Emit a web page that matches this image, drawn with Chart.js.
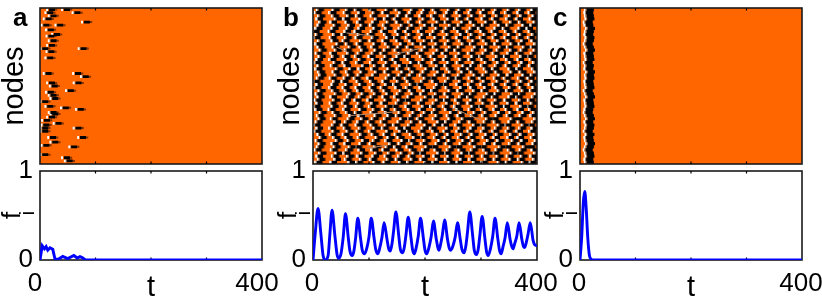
<!DOCTYPE html>
<html><head><meta charset="utf-8">
<style>html,body{margin:0;padding:0;background:#fff;overflow:hidden;width:822px;height:303px}
canvas{position:absolute;filter:blur(0.4px)}</style>
<script src="https://cdn.jsdelivr.net/npm/chart.js@4"></script>
</head><body>
<script>
const tickValues = [100, 200, 300];
const faT = [0,4,8,11,14,18,23,27,33,41,50,61,67,72,76,82,400];
const faV = [0,.16,.125,.15,.11,.137,.12,.01,.008,.04,.015,.05,.023,.038,.027,0,0];
const fbT = [0,4,9,14,18,22,27,30,34,39,43,46,50,54,58,63,66,70,73,76,80,85,88,92,96,100,104,109,112,116,119,123,127,132,135,138,141,144,148,153,156,160,163,166,170,175,178,181,184,188,192,197,200,203,207,211,215,220,223,225,228,231,235,240,243,246,250,254,258,263,266,270,273,276,280,285,288,292,295,298,302,307,310,313,317,321,325,330,333,336,339,343,347,352,355,357,360,364,368,373,376,378,381,384,388,393,396,400];
const fbV = [0,.3,.58,.3,.05,0,.05,.28,.56,.28,.06,.02,.07,.26,.52,.25,.1,.05,.1,.24,.47,.24,.11,.07,.13,.26,.47,.25,.12,.07,.13,.25,.42,.24,.13,.1,.18,.33,.54,.28,.12,.08,.14,.28,.48,.25,.11,.07,.13,.27,.47,.25,.11,.07,.14,.26,.44,.24,.14,.11,.18,.28,.45,.24,.14,.11,.16,.26,.42,.23,.12,.08,.16,.32,.54,.28,.11,.06,.12,.28,.49,.24,.09,.05,.13,.27,.47,.24,.11,.07,.14,.25,.42,.23,.15,.125,.18,.27,.42,.23,.15,.14,.2,.29,.42,.22,.17,.16];
const fcT = [0,3,6,8.5,11,14,17,20,24,400];
const fcV = [0,.25,.65,.77,.6,.25,.05,.01,0,0];
const eventT = [21,48,67,18,24,84,15,11,36,19,30,20,24,21,9,78,20,18,15,68,82,21,69,26,55,19,24,27,9,18,46,73,24,27,21,12,33,11,9,69,9,23,77,27,11,61,9,48,53];
const eventNode = [99,99,97,97,95,91,93,89,89,86,83,82,79,76,74,74,72,68,58,58,56,52,52,50,47,46,44,42,40,37,36,35,33,32,30,28,26,25,23,23,21,17,17,14,12,11,6,4,2];
const waveNodes = [1,3,5,7,9,11,13,15,17,19,21,23,25,27,29,31,33,35,37,39,41,43,45,47,49,51,53,55,57,59,61,63,65,67,69,71,73,75,77,79,81,83,85,87,89,91,93,95,97,99];
const stripeTimes = [
[11,16,13,18,10,14,17,12,19,15,9,13,8,12,17,14,19,11,8,13,10,15,12,17,9,13,7,14,18,16,11,15,9,13,17,12,19,15,11,16,8,12,6,11,15,18,13,16,10,14],
[38,45,41,47,39,44,40,48,43,37,42,36,41,45,39,46,42,35,40,37,43,38,46,41,36,40,43,37,46,42,48,39,44,36,41,38,46,42,49,40,37,43,35,40,44,38,46,41,36,42],
[70,64,68,61,66,71,63,69,65,60,67,62,58,64,69,72,66,61,65,59,63,68,71,64,60,65,58,62,69,66,72,63,60,65,61,68,64,71,66,60,64,58,63,67,70,65,61,68,62,66],
[84,91,86,93,88,82,90,95,87,91,85,89,83,86,93,88,82,90,84,87,81,89,94,86,83,90,85,80,87,92,88,95,84,89,82,87,93,90,85,91,83,87,81,88,92,86,90,84,88,82],
[115,109,113,118,111,116,108,114,119,112,107,115,110,105,112,117,110,114,107,111,104,110,116,112,108,114,109,104,113,118,111,116,109,113,106,112,117,111,115,108,112,105,110,115,109,113,118,110,114,108],
[133,139,135,141,131,137,143,136,140,133,138,130,135,128,134,140,136,131,137,129,135,131,138,133,128,136,131,137,142,135,140,133,137,130,135,128,134,141,136,131,138,134,129,136,132,139,134,140,131,137],
[161,155,159,164,156,152,160,165,158,153,161,156,150,158,163,155,160,153,148,155,159,152,157,162,154,150,157,152,160,165,157,161,154,149,156,160,153,158,163,156,151,158,154,160,164,156,152,158,161,155],
[175,182,178,185,180,174,183,178,186,180,174,170,177,182,175,180,185,177,172,178,170,176,183,179,173,180,175,171,179,184,178,173,181,176,170,177,182,175,185,179,173,178,172,176,183,177,181,174,179,182],
[206,199,204,197,202,208,200,205,198,203,196,201,206,199,193,200,205,197,202,195,200,207,199,204,197,192,200,205,198,203,208,200,196,203,198,193,201,206,199,205,197,201,195,200,206,198,203,197,201,204],
[220,227,222,229,224,218,226,231,223,228,220,216,224,229,221,226,219,223,216,221,227,220,225,218,223,227,220,216,224,229,222,227,219,224,217,222,228,221,226,219,224,216,221,226,220,228,222,218,225,221],
[249,243,247,241,246,251,244,249,242,247,240,245,238,243,249,246,252,243,239,245,240,247,242,249,244,238,243,248,241,250,246,242,247,240,244,238,245,250,243,248,241,246,239,244,250,242,247,241,245,248],
[263,270,265,272,267,261,269,274,266,271,263,267,261,268,273,265,270,263,259,266,261,268,273,265,270,263,268,261,266,272,267,274,264,269,262,267,260,266,273,268,263,270,265,259,266,272,264,269,263,267],
[293,286,291,284,289,295,287,292,285,290,283,288,293,286,282,289,294,285,290,283,288,282,287,293,288,284,291,285,294,289,283,288,292,285,290,284,291,295,287,292,284,289,282,287,294,288,283,290,285,288],
[307,314,309,316,311,305,313,318,310,315,307,311,305,312,316,309,314,307,302,310,305,312,317,308,313,306,311,304,310,316,312,307,314,308,303,310,315,309,316,311,305,312,306,302,309,315,308,313,306,311],
[337,330,335,328,333,339,331,336,329,334,327,332,337,330,326,333,338,329,334,327,332,326,331,337,333,328,335,330,338,333,327,332,336,329,334,328,335,339,331,336,328,333,326,331,338,332,327,334,329,332],
[351,358,353,360,355,349,357,362,354,359,351,355,349,356,360,353,358,351,347,354,349,356,361,352,357,350,355,348,354,360,356,351,358,352,347,354,359,353,360,355,349,356,350,346,353,359,352,357,350,355],
[380,373,378,371,376,382,374,379,372,377,370,375,380,373,369,376,381,372,377,370,375,369,374,380,376,371,378,373,381,376,370,375,379,372,377,371,378,382,374,379,371,376,369,374,381,375,370,377,372,375],
[393,400,395,402,397,391,399,403,396,401,393,397,391,398,402,395,400,393,389,396,391,398,403,394,399,392,397,390,396,402,398,393,400,394,389,396,401,395,402,397,391,398,392,388,395,401,394,399,392,397]];
const waveTimes = [18,17,19,18,16,18,20,18,17,19,16,18,19,17,20,18,16,17,19,18,17,20,18,16,19,18,17,19,18,20,17,18,16,19,18,17,20,18,16,18,19,17,18,20,17,16,19,18,17,18];
const streakT = [[60,108],[42,60],[143,191],[66,149],[96,132],[248,301]];
const streakNode = [[84,82],[75,72],[70,74],[31,33.5],[10,12],[36,28]];
const xLabels = [0, 400], yLabels = [0, 1];

const ORANGE = '#ff6600', BLUE = '#0000ff', BLACK = '#000';
const FONT = {family:'"Liberation Sans", Arial, sans-serif', size:26, lineHeight:1};
const TITLE = {family:'"Liberation Sans", Arial, sans-serif', size:29, lineHeight:1};

function line(data, color, width, order, raster){
  return {type:'scatter', showLine:true, data, borderColor:color, borderWidth:width, pointRadius:0, order,
    clip: raster ? 0 : undefined, spanGaps:false, borderJoinStyle:'miter', borderCapStyle:'butt'};
}
function events(from, to){
  const out = [];
  eventT.forEach((t,i)=>{ out.push({x:t+from,y:eventNode[i]},{x:t+to,y:eventNode[i]},{x:NaN,y:NaN}); });
  return out;
}
function rowSegments(rows, from, to){
  const out = [];
  rows.forEach(r=>r.forEach((t,i)=>{ out.push({x:t+from,y:waveNodes[i]},{x:t+to,y:waveNodes[i]},{x:NaN,y:NaN}); }));
  return out;
}
function streaks(){
  const out = [];
  streakT.forEach((ts,i)=>{ ts.forEach((t,j)=>out.push({x:t,y:streakNode[i][j]})); out.push({x:NaN,y:NaN}); });
  return out;
}
function fLine(ts, vs, smooth){
  const d = line(ts.map((t,i)=>({x:t,y:vs[i]})), BLUE, 2.9, 1, false);
  d.cubicInterpolationMode = smooth ? 'monotone' : 'default';
  return d;
}
function framePlugin(o){
  return {id:'frame'+o.id,
    beforeDatasetsDraw(c){
      const a=c.chartArea, g=c.ctx;
      if(o.raster){g.fillStyle=ORANGE;g.fillRect(a.left,a.top,a.width,a.height);}
      else frame(c,o);
    },
    afterDatasetsDraw(c){ if(o.raster) frame(c,o); },
    afterDraw(c){
      const g=c.ctx;
      g.save();g.fillStyle='#000';
      if(o.letter){g.font='bold 26px "Liberation Sans", Arial, sans-serif';g.textAlign='left';g.textBaseline='alphabetic';
        g.fillText(o.letter,o.letterX,o.letterY);}
      if(o.sub){g.translate(o.subX,o.subY);g.rotate(-Math.PI/2);g.font='20px "Liberation Sans", Arial, sans-serif';
        g.textAlign='center';g.textBaseline='middle';g.fillText(o.sub,0,0);}
      g.restore();
    }};
}
function frame(c,o){
  const a=c.chartArea,g=c.ctx,x=c.scales.x;
  g.save();g.strokeStyle='#1a1a1a';g.lineWidth=1.6;g.strokeRect(a.left,a.top,a.width,a.height);
  g.strokeStyle='#000';g.lineWidth=1.2;g.beginPath();
  tickValues.forEach(v=>{const p=x.getPixelForValue(v);g.moveTo(p,a.top);g.lineTo(p,a.top+2.5);g.moveTo(p,a.bottom);g.lineTo(p,a.bottom-2.5);});
  g.stroke();g.restore();
}
function panel(o){
  const cv=document.createElement('canvas');
  const W=o.plotW+100,H=o.raster?167:152,T=o.raster?0:151;
  cv.width=W;cv.height=H;cv.style.left=(o.plotX-40)+'px';cv.style.top=T+'px';
  document.body.appendChild(cv);
  new Chart(cv,{data:{datasets:o.datasets},plugins:[framePlugin(o)],options:{
    responsive:false,animation:false,devicePixelRatio:1,
    layout:{padding:{top:o.raster?8:20,right:60,bottom:0,left:0}},
    plugins:{legend:{display:false},tooltip:{enabled:false}},
    scales:{
      x:{type:'linear',min:0,max:400,grid:{display:false,drawTicks:false},border:{display:false},
        afterFit(s){s.height=o.raster?3:43;},
        ticks:{display:!o.raster,stepSize:100,autoSkip:false,maxRotation:0,color:'#000',font:FONT,padding:11,labelOffset:o.xOff,
          callback:v=>xLabels.includes(v)?String(v):''},
        title:{display:!o.raster,text:'t',color:'#000',font:TITLE,padding:{top:0,bottom:1}}},
      y:{type:'linear',min:0,max:o.raster?100:1,grid:{display:false,drawTicks:false},border:{display:false},
        afterFit(s){s.width=40;},
        ticks:{display:!o.raster,stepSize:1,color:'#000',font:FONT,padding:7,
          callback:v=>yLabels.includes(v)?String(v):''},
        title:{display:true,text:o.yTitle,color:'#000',font:o.raster?TITLE:FONT,padding:{top:o.yPad,bottom:0}}}
    }}});
}
const rasterA=[line(events(-5,6),BLACK,2.8,1,true),line(events(6,10),'#803300',2,2,true),line(events(-6.5,-5),'#999',2.8,3,true),line(events(-10,-6.5),'#fff',2.8,4,true)];
const rasterB=[line(rowSegments(stripeTimes,-4,5),BLACK,3.2,1,true),line(rowSegments(stripeTimes,-6,-4),'#888',3.2,2,true),line(rowSegments(stripeTimes,-9,-6),'#fff',3.2,3,true),line(rowSegments(stripeTimes,5,6.5),'#5a2400',3.2,4,true),line(streaks(),'#b08a70',1,0,true)];
const rasterC=[line(rowSegments([waveTimes],-6,7),BLACK,3.2,1,true),line(rowSegments([waveTimes],-8,-6),'#888',3.2,2,true),line(rowSegments([waveTimes],-11,-8),'#fff',3.2,3,true)];

panel({id:'a1',raster:true,plotX:40,plotW:222,datasets:rasterA,yTitle:'nodes',yPad:0,xOff:0,letter:'a',letterX:13,letterY:26});
panel({id:'a2',raster:false,plotX:40,plotW:222,datasets:[fLine(faT,faV,false)],yTitle:'f',yPad:0,xOff:-5,sub:'i',subX:28,subY:62});
panel({id:'b1',raster:true,plotX:313,plotW:224,datasets:rasterB,yTitle:'nodes',yPad:3,xOff:0,letter:'b',letterX:10,letterY:26});
panel({id:'b2',raster:false,plotX:313,plotW:224,datasets:[fLine(fbT,fbV,true)],yTitle:'f',yPad:3,xOff:-1,sub:'i',subX:31,subY:62});
panel({id:'c1',raster:true,plotX:580,plotW:222,datasets:rasterC,yTitle:'nodes',yPad:3,xOff:0,letter:'c',letterX:13,letterY:26});
panel({id:'c2',raster:false,plotX:580,plotW:222,datasets:[fLine(fcT,fcV,true)],yTitle:'f',yPad:3,xOff:-1,sub:'i',subX:31,subY:62});
</script>
</body></html>
